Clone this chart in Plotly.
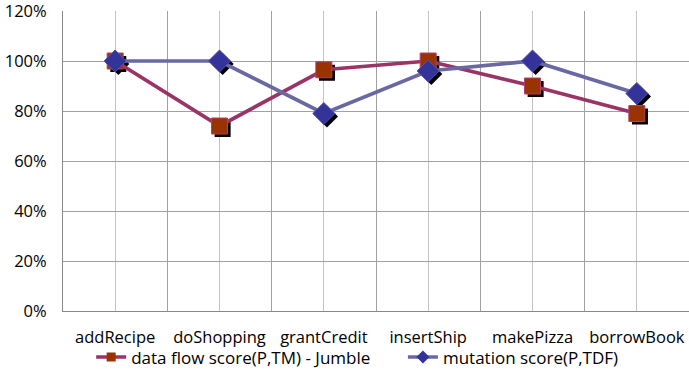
import plotly.graph_objects as go

methods = ["addRecipe", "doShopping", "grantCredit", "insertShip", "makePizza", "borrowBook"]
data_flow = [100, 74, 96.5, 100, 90, 79]
mutation = [100, 100, 79, 96, 100, 87]
y_ticks = [0, 20, 40, 60, 80, 100, 120]

xs = list(range(len(methods)))

DF_LINE, DF_FILL, DF_EDGE = "#9B3466", "#993300", "#B0406E"
MU_LINE, MU_FILL, MU_EDGE = "#6A68A2", "#333399", "#5555AA"


def shadow(vals):
    return [x + 0.03 for x in xs], [v - 1.2 for v in vals]


fig = go.Figure()

# drop shadows behind the markers
for vals, sym, size in [(data_flow, "square", 16), (mutation, "diamond", 17)]:
    sx, sy = shadow(vals)
    fig.add_trace(go.Scatter(x=sx, y=sy, mode="markers", showlegend=False, hoverinfo="skip",
                             marker=dict(symbol=sym, size=size, color="black")))

fig.add_trace(go.Scatter(x=xs, y=data_flow, mode="lines+markers", showlegend=False,
                         line=dict(color=DF_LINE, width=3.7),
                         marker=dict(symbol="square", size=16, color=DF_FILL,
                                     line=dict(color=DF_EDGE, width=1))))
fig.add_trace(go.Scatter(x=xs, y=mutation, mode="lines+markers", showlegend=False,
                         line=dict(color=MU_LINE, width=3.7),
                         marker=dict(symbol="diamond", size=17, color=MU_FILL,
                                     line=dict(color=MU_EDGE, width=1))))

# legend entries with smaller key markers, one legend box each
fig.add_trace(go.Scatter(x=[None], y=[None], mode="lines+markers",
                         name="data flow score(P,TM) - Jumble", legend="legend",
                         line=dict(color=DF_LINE, width=3.5),
                         marker=dict(symbol="square", size=9, color=DF_FILL)))
fig.add_trace(go.Scatter(x=[None], y=[None], mode="lines+markers",
                         name="mutation score(P,TDF)", legend="legend2",
                         line=dict(color=MU_LINE, width=3.5),
                         marker=dict(symbol="diamond", size=10, color=MU_FILL)))

legend_style = dict(orientation="h", xanchor="left", y=-0.095, yanchor="top",
                    font=dict(size=17), bgcolor="rgba(0,0,0,0)")

fig.update_layout(
    width=689, height=370,
    margin=dict(l=63, r=0, t=11, b=59, autoexpand=False),
    paper_bgcolor="white", plot_bgcolor="white",
    font=dict(family="Open Sans", size=16, color="black"),
    showlegend=True,
    legend=dict(x=0.045, **legend_style),
    legend2=dict(x=0.543, **legend_style),
)
fig.update_xaxes(range=[-0.5, len(methods) - 0.5], tickmode="array",
                 tickvals=xs, ticktext=methods, showgrid=True,
                 gridcolor="#C4C4C4", gridwidth=1,
                 minor=dict(tick0=-0.5, dtick=1, showgrid=True, gridcolor="#A0A0A0", gridwidth=1),
                 showline=True, linecolor="#888888", ticks="",
                 tickfont=dict(size=16.5), zeroline=False, ticklabelstandoff=11)
fig.update_yaxes(range=[0, 120], tickvals=y_ticks, ticktext=[f"{v}%" for v in y_ticks],
                 showgrid=True, gridcolor="#A0A0A0", gridwidth=1, showline=True,
                 linecolor="#888888", ticks="", tickfont=dict(size=16.5), zeroline=False,
                 ticklabelstandoff=12, ticklabeloverflow="allow")

fig.write_html("out.html")
